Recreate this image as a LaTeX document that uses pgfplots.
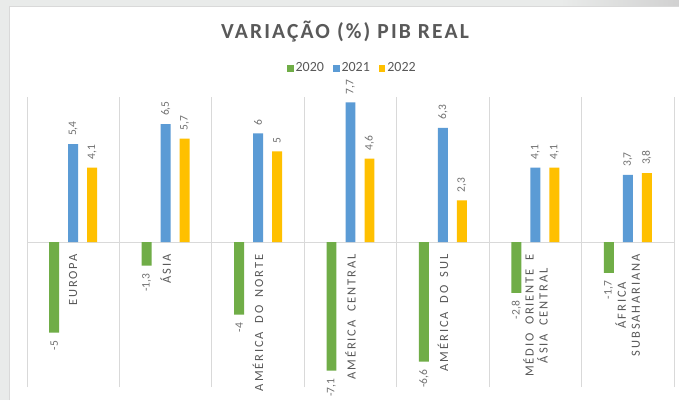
\documentclass[border=0pt]{standalone}
\usepackage{fontspec}
\setmainfont{Carlito}
\newfontfamily\spaced[LetterSpace=15, WordSpace=1.8]{Carlito}
\newfontfamily\titlefont[LetterSpace=10]{Carlito}
\usepackage{pgfplots}
\pgfplotsset{compat=1.18}
\definecolor{cG}{HTML}{70AD47}
\definecolor{cB}{HTML}{5B9BD5}
\definecolor{cY}{HTML}{FFC000}
\definecolor{txt}{HTML}{595959}
\definecolor{val}{HTML}{707070}
\definecolor{grd}{HTML}{D9D9D9}
\definecolor{frm}{HTML}{E9EBEA}

\begin{document}
\begin{tikzpicture}
\fill[frm] (0,0) rectangle (679pt,400pt);
\shade[left color=frm, right color=black!18] (560pt,393pt) rectangle (679pt,400pt);
\fill[white] (10pt,0) rectangle (679pt,393pt);
\draw[grd, line width=0.8pt] (9.6pt,0) -- (9.6pt,393.4pt) -- (679pt,393.4pt);
\begin{axis}[
  at={(27pt,13pt)}, anchor=south west,
  scale only axis, width=647pt, height=290pt,
  xmin=-0.5, xmax=6.5, ymin=-8, ymax=8,
  axis x line=middle, axis y line=none,
  x axis line style={-, draw=grd, line width=0.9pt},
  xtick={0,...,6},
  xticklabels={EUROPA, ÁSIA, AMÉRICA DO NORTE, AMÉRICA CENTRAL, AMÉRICA DO SUL,
    {MÉDIO ORIENTE E\\ÁSIA CENTRAL}, {ÁFRICA\\SUBSAHARIANA}},
  xticklabel style={rotate=90, anchor=east, align=center, text=txt,
    font=\spaced\fontsize{12.5}{14}\selectfont, inner xsep=8pt},
  minor xtick={-0.5,0.5,...,6.5},
  xminorgrids=true, minor grid style={grd, line width=0.9pt},
  tick style={draw=none},
  ytick=\empty,
  clip=false,
  ybar, bar width=0.108,
  /pgf/number format/.cd, use comma, assume math mode=true, /pgfplots/.cd,
  nodes near coords,
  every node near coord/.append style={rotate=90, text=val,
    font=\fontsize{11.5}{13}\selectfont, inner xsep=8pt},
  title={VARIAÇÃO (\%) PIB REAL},
  title style={at={(axis description cs:0.4915,1.204)}, anchor=center,
    text=txt, font=\titlefont\bfseries\fontsize{21.5}{24}\selectfont},
  legend columns=3,
  legend style={at={(axis description cs:0.503,1.1)}, anchor=center,
    draw=none, fill=none, text=txt, font=\fontsize{14}{16}\selectfont,
    /tikz/every even column/.append style={column sep=7pt},
    inner sep=0pt},
  legend image code/.code={\fill[#1] (0pt,-3.5pt) rectangle (6.5pt,3.5pt);},
]
\addplot[fill=cG, draw=none, bar shift=-0.2056,
  every node near coord/.append style={anchor=east}]
  coordinates {(0,-5) (1,-1.3) (2,-4) (3,-7.1) (4,-6.6) (5,-2.8) (6,-1.7)};
\addplot[fill=cB, draw=none, bar shift=0,
  every node near coord/.append style={anchor=west}]
  coordinates {(0,5.4) (1,6.5) (2,6) (3,7.7) (4,6.3) (5,4.1) (6,3.7)};
\addplot[fill=cY, draw=none, bar shift=0.2056,
  every node near coord/.append style={anchor=west}]
  coordinates {(0,4.1) (1,5.7) (2,5) (3,4.6) (4,2.3) (5,4.1) (6,3.8)};
\legend{2020,2021,2022}
\end{axis}
\pgfresetboundingbox
\path (0,0) rectangle (679pt,400pt);
\end{tikzpicture}
\end{document}
